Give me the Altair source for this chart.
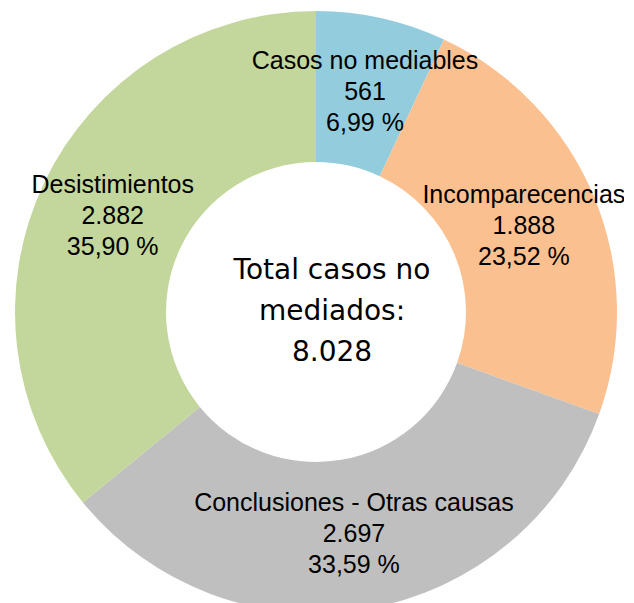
import altair as alt
import pandas as pd

categories = ["Casos no mediables", "Incomparecencias", "Conclusiones - Otras causas", "Desistimientos"]
values = [561, 1888, 2697, 2882]
percents = [6.99, 23.52, 33.59, 35.90]
colors = ["#93CDDD", "#FAC090", "#BFBFBF", "#C3D69B"]
center_lines = ["Total casos no", "mediados:", "8.028"]


def fmt_int(v):
    return f"{v:,}".replace(",", ".")


def fmt_pct(p):
    return f"{p:.2f}".replace(".", ",") + " %"


df = pd.DataFrame({
    "cat": categories,
    "value": values,
    "order": list(range(len(categories))),
    "label": [f"{c}\n{fmt_int(v)}\n{fmt_pct(p)}" for c, v, p in zip(categories, values, percents)],
})

base = alt.Chart(df).encode(
    theta=alt.Theta("value:Q", stack=True),
    order=alt.Order("order:Q"),
)

arcs = base.mark_arc(outerRadius=301, innerRadius=150, stroke=None).encode(
    color=alt.Color("cat:N", scale=alt.Scale(domain=categories, range=colors), legend=None),
)

labels = base.mark_text(
    radius=225, font="Liberation Sans", fontSize=25, lineHeight=31, dy=-31,
    lineBreak="\n", align="center", baseline="middle", color="#000000",
).encode(text="label:N")

center = alt.Chart(pd.DataFrame({"t": ["\n".join(center_lines)]})).mark_text(
    font="DejaVu Sans", fontSize=28, lineHeight=41, lineBreak="\n",
    align="center", baseline="middle", color="#000000", dx=16, dy=-41,
).encode(text="t:N")

chart = alt.layer(arcs, labels, center).properties(
    width=616, height=608, padding=0, autosize=alt.AutoSizeParams(type="none"),
).configure_view(stroke=None)

chart.save("out.html", embed_options={"renderer": "svg", "actions": False})
